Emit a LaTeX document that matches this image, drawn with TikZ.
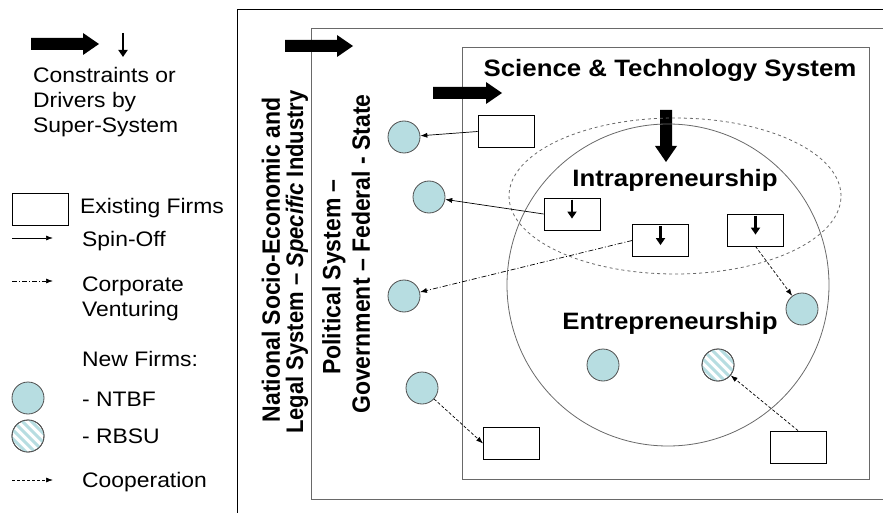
\documentclass[tikz,border=0pt]{standalone}
\usepackage{fontspec}
\setmainfont{Liberation Sans}
\usetikzlibrary{arrows.meta,calc}
\definecolor{ntbf}{RGB}{183,221,225}
\definecolor{rim}{RGB}{80,80,80}
\definecolor{framegray}{RGB}{105,105,105}
\newcommand\wide[1]{\scalebox{1.09}[1]{#1}}
\newcommand\tall[1]{\scalebox{1}[1.09]{#1}}
% heavy driver arrow: tail x, tail y, angle, length
\newcommand\driver[4]{\fill[shift={(#1,#2)},rotate=#3] (0,-6) -- (#4-16,-6) -- (#4-16,-11) -- (#4,0) -- (#4-16,11) -- (#4-16,6) -- (0,6) -- cycle;}

\begin{document}
\begin{tikzpicture}[x=1pt,y=-1pt,
  legendtext/.style={font=\fontsize{21}{25}\selectfont,inner sep=0pt,anchor=base west},
  systitle/.style={font=\bfseries\fontsize{23.7}{28}\selectfont,inner sep=0pt,anchor=base},
  sidetitle/.style={font=\bfseries\fontsize{23}{27}\selectfont,inner sep=0pt,rotate=90},
  firm/.style={draw,line width=0.8pt,fill=white,minimum width=56pt,minimum height=32pt,inner sep=0pt},
  newfirm/.style={circle,draw=rim,line width=0.8pt,fill=ntbf,minimum size=32pt,inner sep=0pt},
  rbsu/.style={newfirm,fill=white},
  spinoff/.style={line width=0.7pt,-{Latex[length=7pt,width=5pt]}},
  venture/.style={spinoff,dash pattern=on 5pt off 2pt on 1pt off 2pt},
  coop/.style={spinoff,dash pattern=on 3pt off 2pt},
  droparrow/.style={line width=2.4pt,-{Triangle[length=7pt,width=9pt]}}]
  \useasboundingbox (0,0) rectangle (883,513);

  % legend
  \driver{31}{44}{0}{68}
  \draw[droparrow] (123,33) -- (123,57);
  \node[legendtext] (lgconstr) at (33,83) {\wide{Constraints or}};
  \node[legendtext] (lgdriver) at (33,108) {\wide{Drivers by}};
  \node[legendtext] (lgsuper) at (33,133) {\wide{Super-System}};
  \node[firm] (lgfirm) at (40,209.5) {};
  \node[legendtext] (lgexist) at (80,213) {\wide{Existing Firms}};
  \coordinate (lgspina) at (12,238);
  \coordinate (lgspinb) at (53,238);
  \draw[spinoff] (lgspina) -- (lgspinb);
  \node[legendtext] (lgspin) at (82,246) {\wide{Spin-Off}};
  \coordinate (lgventa) at (12,281);
  \coordinate (lgventb) at (53,281);
  \draw[venture] (lgventa) -- (lgventb);
  \node[legendtext] (lgcorp) at (82,291) {\wide{Corporate}};
  \node[legendtext] (lgvent) at (82,316) {\wide{Venturing}};
  \node[legendtext] (lgnew) at (82,366) {\wide{New Firms:}};
  \node[newfirm] (lgntbf) at (28,398) {};
  \node[legendtext] (lgntbftxt) at (82,406) {\wide{- NTBF}};
  \node[rbsu] (lgrbsu) at (28,436) {};
  \node[legendtext] (lgrbsutxt) at (82,443) {\wide{- RBSU}};
  \coordinate (lgcoopa) at (12,480);
  \coordinate (lgcoopb) at (53,480);
  \draw[coop] (lgcoopa) -- (lgcoopb);
  \node[legendtext] (lgcoop) at (82,487) {\wide{Cooperation}};

  % nested systems
  \draw[line width=0.8pt] (237,515) -- (237,9) -- (886,9);
  \draw[framegray,line width=0.8pt] (886,28) -- (311,28) -- (311,499) -- (886,499);
  \draw[framegray,line width=0.8pt] (462,47) rectangle (869,479);
  \driver{285}{46}{0}{68}
  \driver{433}{93}{0}{69}
  \driver{666}{110}{-90}{52}
  \node[sidetitle] (natl) at (271,260) {\tall{National Socio-Economic and}};
  \node[sidetitle,font=\bfseries\fontsize{22}{26}\selectfont] (legal) at (297,262) {\tall{Legal System – \textit{Specific} Industry}};
  \node[sidetitle] (polit) at (334,277) {\tall{Political System –}};
  \node[sidetitle] (govt) at (361,254) {\tall{Government – Federal - State}};
  \node[systitle] (sts) at (670,77) {\wide{Science \& Technology System}};

  % intra- and entrepreneurship
  \draw[framegray,dashed,line width=0.8pt] (675,196) ellipse [x radius=166pt, y radius=78pt];
  \draw[framegray,line width=0.8pt] (668,285) circle [radius=161pt];
  \node[systitle] (intra) at (675,187) {\wide{Intrapreneurship}};
  \node[systitle] (entre) at (670,329) {\wide{Entrepreneurship}};

  % firms
  \node[firm] (r1) at (506,131.5) {};
  \node[firm] (r2) at (572,214) {};
  \node[firm] (r3) at (660.5,240.5) {};
  \node[firm] (r4) at (755.5,230) {};
  \node[firm] (r5) at (511.5,443.5) {};
  \node[firm] (r6) at (798,447) {};
  \foreach \r in {r2,r3,r4}
    \draw[droparrow] ([yshift=-2pt]\r.north) -- ++(0,19);
  \node[newfirm] (c1) at (404,137) {};
  \node[newfirm] (c2) at (429,197) {};
  \node[newfirm] (c3) at (404,296) {};
  \node[newfirm] (c4) at (422,388) {};
  \node[newfirm] (c5) at (603,365) {};
  \node[rbsu] (c6) at (718,365) {};
  \node[newfirm] (c7) at (802,309) {};
  \foreach \c in {c6,lgrbsu} {
    \begin{scope}
      \clip (\c.center) circle [radius=16pt];
      \foreach \d in {-36,-27,...,36}
        \draw[ntbf,line width=3pt] ($(\c.center)+(\d-20,-20)$) -- ++(40,40);
    \end{scope}
    \draw[rim,line width=0.8pt] (\c.center) circle [radius=16pt];
  }

  % links
  \draw[spinoff] (r1.west) -- (c1);
  \draw[spinoff] (r2.west) -- (c2);
  \draw[venture] (r3.west) -- (c3);
  \draw[coop] (r4.south) -- (c7);
  \draw[coop] (c4) -- (r5.west);
  \draw[coop] (r6.north) -- (c6);
\end{tikzpicture}
\end{document}
